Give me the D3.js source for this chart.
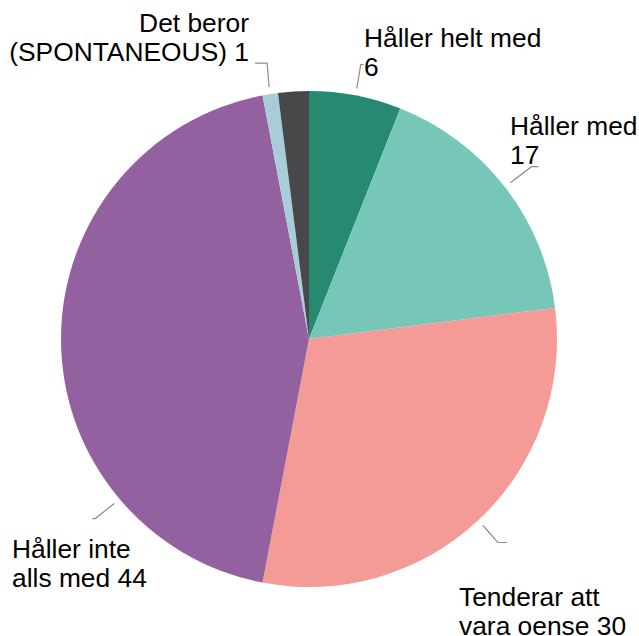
<!DOCTYPE html>
<html>
<head>
<meta charset="utf-8">
<script src="https://cdn.jsdelivr.net/npm/d3@7"></script>
<style>
  html, body { margin: 0; padding: 0; background: #fff; }
  svg { display: block; }
  .lbl { font-family: "Liberation Sans", Arial, sans-serif; font-size: 25px; fill: #000; }
  .leader { fill: none; stroke: #8c8c8c; stroke-width: 1.2; }
</style>
</head>
<body>
<div class="pie-container"></div>
<script>
// data (medurs från kl 12)
const categories = ['Håller helt med', 'Håller med', 'Tenderar att vara oense', 'Håller inte alls med', 'Det beror (SPONTANEOUS)', 'Vet ej'];
const values = [6, 17, 30, 44, 1, 2];
const colors = ['#268a73', '#76c7b8', '#f49a97', '#9461a0', '#a8cdd8', '#48484a'];
// etikettrader (null = ingen etikett)
const labelLines = [
    ['Håller helt med', '6'],
    ['Håller med', '17'],
    ['Tenderar att', 'vara oense 30'],
    ['Håller inte', 'alls med 44'],
    ['Det beror', '(SPONTANEOUS) 1'],
    null
];

// layout
const width = 639, height = 636;
const cx = 309, cy = 339, radius = 248;
const lineH = 29.5;
const stretchX = 1.055;   // texten i originalet är lite bredare

// etikettplacering: vinkel för linjens start, knäck, textposition
const labelLayout = [
    {ang: 10.8, elbow: [4, -24], tail: 3, tx: 364, ty: 47, anchor: 'start'},
    {ang: 52.2, elbow: [21, -16], tail: 7, tx: 510, ty: 135, anchor: 'start'},
    {ang: 137, elbow: [15, 17], tail: 9, tx: 459, ty: 606, anchor: 'start'},
    {ang: 229.8, elbow: [-19, 15], tail: -3, tx: 12, ty: 558, anchor: 'start'},
    {ang: 351, elbow: [-2, -24], tail: -12, tx: 249, ty: 32, anchor: 'end'},
    null
];

const svg = d3.select('.pie-container').append('svg')
    .attr('width', width).attr('height', height);

const g = svg.append('g').attr('transform', `translate(${cx},${cy})`);

const pie = d3.pie().sort(null).value(d => d.value);
const arc = d3.arc().innerRadius(0).outerRadius(radius);

const pieData = pie(values.map((v, i) => ({name: categories[i], value: v, color: colors[i]})));

g.selectAll('.slice').data(pieData).join('path')
    .attr('class', 'slice')
    .attr('d', arc)
    .attr('fill', d => d.data.color);

// leader lines + text
labelLayout.forEach((lay, i) => {
    if (!lay || !labelLines[i]) return;
    const p0 = d3.pointRadial(lay.ang * Math.PI / 180, radius + 7);
    const p1 = [p0[0] + lay.elbow[0], p0[1] + lay.elbow[1]];
    const p2 = [p1[0] + lay.tail, p1[1]];
    g.append('path').attr('class', 'leader')
        .attr('d', d3.line()([p0, p1, p2]));

    const t = svg.append('text').attr('class', 'lbl')
        .attr('text-anchor', lay.anchor)
        .attr('transform', `translate(${lay.tx},${lay.ty}) scale(${stretchX},1)`);
    labelLines[i].forEach((s, k) => {
        t.append('tspan').attr('x', 0).attr('y', k * lineH).text(s);
    });
});
</script>
</body>
</html>
